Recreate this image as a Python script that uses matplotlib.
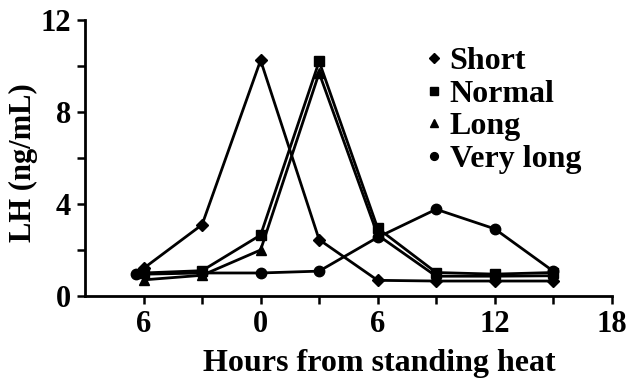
import numpy as np
import matplotlib.pyplot as plt
from matplotlib.ticker import FixedLocator

hours = [-6, -3, 0, 3, 6, 9, 12, 15]
hours_vlong = [-6.4, -3, 0, 3, 6, 9, 12, 15]
short = [1.2, 3.1, 10.25, 2.45, 0.68, 0.65, 0.65, 0.65]
normal = [1.0, 1.1, 2.65, 10.2, 2.95, 1.02, 0.95, 1.02]
long_ = [0.7, 0.9, 2.0, 9.7, 2.65, 0.86, 0.86, 0.88]
very_long = [0.94, 1.0, 1.0, 1.08, 2.55, 3.77, 2.92, 1.08]

xticks = [-6, 0, 6, 12, 18]
xticklabels = ['6', '0', '6', '12', '18']
yticks = [0, 4, 8, 12]

plt.rcParams['font.family'] = ['Liberation Serif', 'DejaVu Serif']
plt.rcParams['font.weight'] = 'bold'

fig = plt.figure(figsize=(6.3, 3.78), dpi=100)
ax = fig.add_axes([0.135, 0.217, 0.836, 0.73])

kw = dict(color='black', lw=2, markersize=7.5)
ax.plot(hours, short, marker='D', markersize=6.5, label='Short', color='black', lw=2)
ax.plot(hours, normal, marker='s', label='Normal', **kw)
ax.plot(hours, long_, marker='^', label='Long', **kw)
ax.plot(hours_vlong, very_long, marker='o', label='Very long', **kw)

ax.set_xlim(-9, 18)
ax.set_ylim(0, 12)
ax.spines['top'].set_visible(False)
ax.spines['right'].set_visible(False)
ax.spines['left'].set_linewidth(2)
ax.spines['bottom'].set_linewidth(2)
ax.set_xticks(xticks)
ax.set_xticklabels(xticklabels)
ax.set_yticks(yticks)
ax.xaxis.set_minor_locator(FixedLocator([-3, 3, 9, 15]))
ax.yaxis.set_minor_locator(FixedLocator([2, 6, 10]))
ax.tick_params(which='both', direction='out', width=1.8, labelsize=22, pad=4)
ax.tick_params(which='major', length=6)
ax.tick_params(which='minor', length=6)

ax.set_xlabel('Hours from standing heat', fontsize=23, fontweight='bold')
ax.xaxis.label.set_va('baseline')
ax.xaxis.set_label_coords(0.558, -0.272)
ax.set_ylabel('LH (ng/mL)', fontsize=22, fontweight='bold')
ax.yaxis.set_label_coords(-0.089, 0.482)

leg = fig.legend(*ax.get_legend_handles_labels(), loc='upper left',
                 bbox_to_anchor=(0.678, 0.876), frameon=False,
                 fontsize=23, handlelength=0.4, handletextpad=0.3,
                 labelspacing=0.1, borderpad=0, borderaxespad=0,
                 markerscale=0.75)
for h in leg.legend_handles:
    h.set_linestyle('')
for t in leg.get_texts():
    t.set_fontweight('bold')

fig.savefig('out.png', dpi=100)
